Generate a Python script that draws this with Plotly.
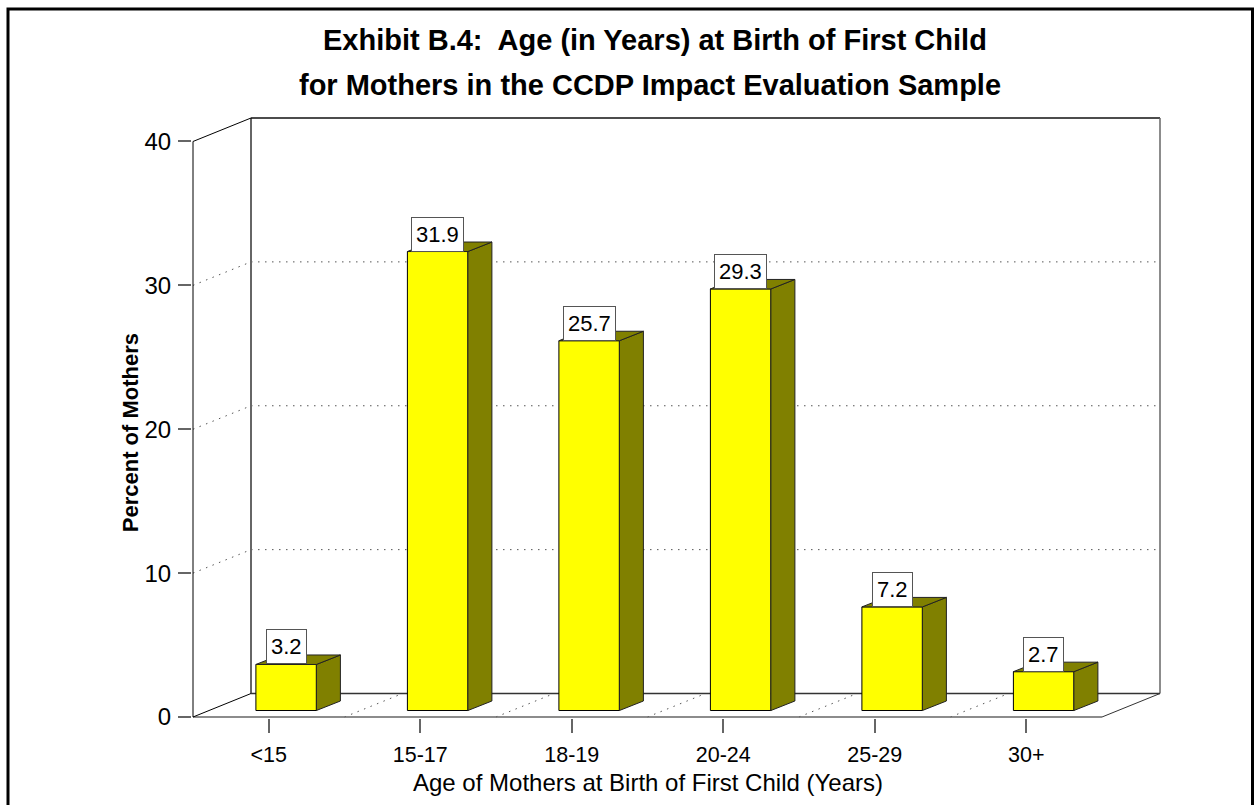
import plotly.graph_objects as go

# --- data ---
categories = ["<15", "15-17", "18-19", "20-24", "25-29", "30+"]
percent = [3.2, 31.9, 25.7, 29.3, 7.2, 2.7]
y_ticks = [0, 10, 20, 30, 40]
title_lines = ["Exhibit B.4:\u00a0 Age (in Years) at Birth of First Child",
               "for Mothers in the CCDP Impact Evaluation Sample"]
x_title = "Age of Mothers at Birth of First Child (Years)"
y_title = "Percent of Mothers"

# --- geometry (in axis units) ---
W, H = 1254, 805
PX_X = 151.5           # pixels per category
PX_Y = 14.4            # pixels per percent
X0_PX, Y0_PX = 193, 717
WALL_DX, WALL_DY = 58 / PX_X, 23.5 / PX_Y
BAR_DX, BAR_DY = 24 / PX_X, 9.5 / PX_Y
BAR_SHIFT = 17.4 / PX_X
BAR_BASE = 6.5 / PX_Y
BAR_W = 60.5 / PX_X
PAD = 1
PAD_FAR = 4
XL, XR = -0.5, 5.5
YT = y_ticks[-1]

OLIVE = "#808000"
YELLOW = "#ffff00"
GRAY = "#666666"
FONT = "Liberation Sans"

x_range = [XL - PAD / PX_X, XR + WALL_DX + PAD_FAR / PX_X]
y_range = [-PAD / PX_Y, YT + WALL_DY + PAD_FAR / PX_Y]

m_l = X0_PX - PAD
m_r = W - (X0_PX + (XR - XL + WALL_DX) * PX_X) - PAD_FAR
m_t = Y0_PX - (YT + WALL_DY) * PX_Y - PAD_FAR
m_b = H - Y0_PX - PAD
plot_w, plot_h = W - m_l - m_r, H - m_t - m_b


def px(x):
    return (x - m_l) / plot_w


def py(y):
    return (H - m_b - y) / plot_h


fig = go.Figure()

xs = [i + BAR_SHIFT for i in range(len(categories))]

# front faces
fig.add_trace(go.Bar(x=xs, y=percent, base=BAR_BASE, width=BAR_W,
                     marker=dict(color=YELLOW, line=dict(color="#000000", width=1)),
                     hoverinfo="skip", showlegend=False))

# side + top faces, computed from the data
for xc, v in zip(xs, percent):
    xa, xb = xc - BAR_W / 2, xc + BAR_W / 2
    top = v + BAR_BASE
    fig.add_trace(go.Scatter(
        x=[xb, xb + BAR_DX, xb + BAR_DX, xb, xb],
        y=[BAR_BASE, BAR_BASE + BAR_DY, top + BAR_DY, top, BAR_BASE],
        mode="lines", fill="toself", fillcolor=OLIVE,
        line=dict(color="#222222", width=1), hoverinfo="skip", showlegend=False))
    fig.add_trace(go.Scatter(
        x=[xa, xa + BAR_DX, xb + BAR_DX, xb, xa],
        y=[top, top + BAR_DY, top + BAR_DY, top, top],
        mode="lines", fill="toself", fillcolor=OLIVE,
        line=dict(color="#222222", width=1), hoverinfo="skip", showlegend=False))


def seg(x0, y0, x1, y1, color, width=1, dash="solid"):
    return dict(type="line", xref="x", yref="y", x0=x0, y0=y0, x1=x1, y1=y1,
                layer="below", line=dict(color=color, width=width, dash=dash))


DOT = "1.5px,5.5px"
DOTC = "#555555"
shapes = []
# dotted grid on back wall + side wall
for t in y_ticks[1:-1]:
    shapes.append(seg(XL, t, XL + WALL_DX, t + WALL_DY, DOTC, 1, DOT))
    shapes.append(seg(XL + WALL_DX, t + WALL_DY, XR + WALL_DX, t + WALL_DY, DOTC, 1, DOT))
# dotted floor lines at category boundaries
for k in range(1, len(categories)):
    shapes.append(seg(XL + k, 0, XL + k + WALL_DX, WALL_DY, DOTC, 1, DOT))
# walls and floor
shapes += [
    seg(XL + WALL_DX, WALL_DY, XL + WALL_DX, YT + WALL_DY, GRAY, 2),
    seg(XL + WALL_DX, YT + WALL_DY, XR + WALL_DX, YT + WALL_DY, "#111111", 1.5),
    seg(XR + WALL_DX, WALL_DY, XR + WALL_DX, YT + WALL_DY, GRAY, 1.5),
    seg(XL + WALL_DX, WALL_DY, XR + WALL_DX, WALL_DY, "#333333", 1.5),
    seg(XL, 0, XR, 0, GRAY, 1.5),
    seg(XL, 0, XL, YT, "#000000", 1),
    seg(XL, YT, XL + WALL_DX, YT + WALL_DY, "#000000", 1),
    seg(XL, 0, XL + WALL_DX, WALL_DY, "#000000", 1),
    seg(XR, 0, XR + WALL_DX, WALL_DY, "#333333", 1),
]
# outer frame
shapes.append(dict(type="rect", xref="paper", yref="paper", x0=px(8), x1=px(1252.5),
                   y0=py(815), y1=py(8.5), layer="above",
                   line=dict(color="#000000", width=3)))

annotations = []
for xc, v in zip(xs, percent):
    annotations.append(dict(
        x=xc, y=v + BAR_BASE, xref="x", yref="y", text=f"{v:.1f}", showarrow=False,
        yanchor="bottom", xanchor="center", font=dict(family=FONT, size=22, color="#000000"),
        bgcolor="#ffffff", bordercolor="#555555", borderwidth=1, borderpad=4))
for line, xx, yy in zip(title_lines, [655, 650], [39, 84]):
    annotations.append(dict(
        x=px(xx), y=py(yy), xref="paper", yref="paper", text=line, showarrow=False,
        xanchor="center", yanchor="middle",
        font=dict(family=FONT, size=29, color="#000000", weight="bold")))
annotations.append(dict(
    x=px(647.5), y=py(783), xref="paper", yref="paper", text=x_title, showarrow=False,
    xanchor="center", yanchor="middle", font=dict(family=FONT, size=24, color="#000000")))
annotations.append(dict(
    x=px(130.5), y=py(432.5), xref="paper", yref="paper", text=y_title, showarrow=False,
    textangle=-90, xanchor="center", yanchor="middle",
    font=dict(family=FONT, size=22, color="#000000", weight="bold")))

fig.update_layout(
    width=W, height=H, autosize=False, showlegend=False,
    paper_bgcolor="#ffffff", plot_bgcolor="#ffffff",
    margin=dict(l=m_l, r=m_r, t=m_t, b=m_b, pad=0, autoexpand=False),
    shapes=shapes, annotations=annotations, barmode="overlay",
    xaxis=dict(range=x_range, tickmode="array", tickvals=list(range(len(categories))),
               ticktext=categories, ticks="outside", ticklen=14, tickcolor=GRAY, tickwidth=1.5,
               showgrid=False, zeroline=False, showline=False, ticklabelstandoff=3,
               tickfont=dict(family=FONT, size=21.5, color="#000000")),
    yaxis=dict(range=y_range, tickmode="array", tickvals=y_ticks, ticks="outside", ticklen=13,
               tickcolor=GRAY, tickwidth=1.5, showgrid=False, zeroline=False, showline=False,
               ticklabelstandoff=2,
               tickfont=dict(family=FONT, size=24, color="#000000")),
)

fig.write_html("out.html", post_script="document.body.style.margin='0';document.body.style.overflow='hidden';",
               config={"displayModeBar": False})
